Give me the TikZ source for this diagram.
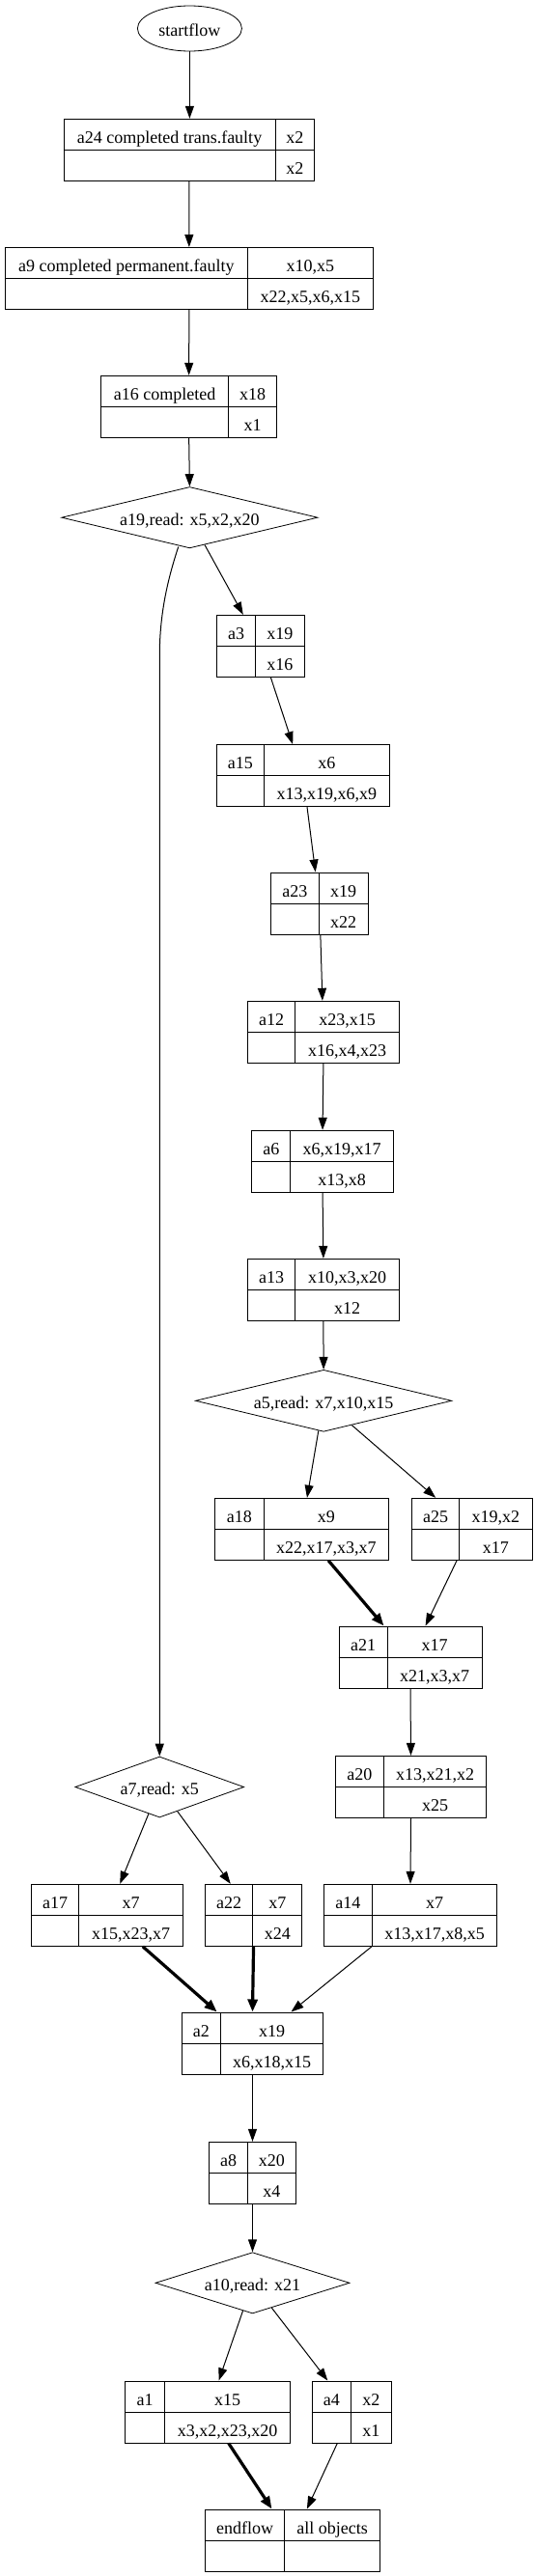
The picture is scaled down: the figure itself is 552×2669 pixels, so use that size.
\documentclass[tikz,border=0pt]{standalone}
\usepackage{fontspec}
\setmainfont{Liberation Serif}
\usetikzlibrary{arrows.meta,shapes.geometric}
\newcommand{\recnode}[8]{%
  \node[recbox,minimum width={(#4-#2)*1pt},minimum height=64pt] (#1) at ({(#2+#4)/2},{#5+32}) {};
  \draw[line width=1pt] (#1.west) -- (#1.east);
  \draw[line width=1pt] (#3,#5) -- (#3,#5+64);
  \node[txt] (#1-a) at ({(#2+#3)/2},{#5+16}) {#6};
  \node[txt] (#1-b) at ({(#3+#4)/2},{#5+16}) {#7};
  \node[txt] (#1-c) at ({(#3+#4)/2},{#5+48}) {#8};
}
\begin{document}
\begin{tikzpicture}[x=1pt,y=-1pt,
  recbox/.style={draw,line width=1pt,inner sep=0pt,rectangle},
  dia/.style={draw,line width=0.8pt,diamond,inner sep=0pt,text height=16pt,text depth=0pt,font=\fontsize{18}{20}\selectfont},
  txt/.style={inner sep=0pt,text height=18pt,text depth=0pt,font=\fontsize{18}{20}\selectfont},
  edge/.style={line width=1pt,-{Triangle[length=13pt,width=9pt]}},
  thickedge/.style={line width=3.2pt,-{Triangle[length=13pt,width=10pt]}}]
\useasboundingbox (0,0) rectangle (552,2669);
\fill[white] (0,0) rectangle (552,2669);

\node[draw,line width=0.8pt,ellipse,inner sep=0pt,minimum width=108pt,minimum height=47pt,text height=15.6pt,text depth=0pt,font=\fontsize{18}{20}\selectfont] (start) at (196.4,29.5) {startflow};

\recnode{a24}{66}{285}{325.5}{123.3}{a24 completed trans.faulty}{x2}{x2}
\recnode{a9}{5.3}{256.5}{386.4}{256.5}{a9 completed permanent.faulty}{x10,x5}{x22,x5,x6,x15}
\recnode{a16}{104.7}{236.4}{286.6}{389.3}{a16 completed}{x18}{x1}
\node[dia,aspect=4.2,minimum width=265.3pt,minimum height=63.4pt] (a19) at (196.4,536.2) {a19,read: x5,x2,x20};
\recnode{a3}{224.3}{264.7}{315}{637.3}{a3}{x19}{x16}
\recnode{a15}{224.3}{273.5}{403.4}{771.7}{a15}{x6}{x13,x19,x6,x9}
\recnode{a23}{280.6}{330.1}{381.1}{904}{a23}{x19}{x22}
\recnode{a12}{256.5}{305.7}{413.3}{1037.3}{a12}{x23,x15}{x16,x4,x23}
\recnode{a6}{260.8}{300.8}{407.3}{1171.3}{a6}{x6,x19,x17}{x13,x8}
\recnode{a13}{256.5}{305.7}{413.3}{1304.3}{a13}{x10,x3,x20}{x12}
\node[dia,aspect=4.15,minimum width=265.4pt,minimum height=64pt] (a5) at (335.1,1451.3) {a5,read: x7,x10,x15};
\recnode{a18}{222.6}{273.2}{402.3}{1552.3}{a18}{x9}{x22,x17,x3,x7}
\recnode{a25}{426.4}{475.9}{551}{1552.3}{a25}{x19,x2}{x17}
\recnode{a21}{351}{401.3}{499}{1685}{a21}{x17}{x21,x3,x7}
\recnode{a20}{347.1}{397.4}{503.9}{1819.3}{a20}{x13,x21,x2}{x25}
\node[dia,aspect=2.78,minimum width=174.9pt,minimum height=63pt] (a7) at (165.25,1851.5) {a7,read: x5};
\recnode{a17}{32.6}{81.7}{189.3}{1952.3}{a17}{x7}{x15,x23,x7}
\recnode{a22}{212.3}{261.9}{312.8}{1952.3}{a22}{x7}{x24}
\recnode{a14}{335.1}{385.4}{514.9}{1952.3}{a14}{x7}{x13,x17,x8,x5}
\recnode{a2}{188.3}{228.6}{334.7}{2085}{a2}{x19}{x6,x18,x15}
\recnode{a8}{216.6}{256.5}{306.4}{2219.3}{a8}{x20}{x4}
\node[dia,aspect=3.17,minimum width=201pt,minimum height=63.3pt] (a10) at (261.5,2365.3) {a10,read: x21};
\recnode{a1}{129.9}{170.2}{300.8}{2467}{a1}{x15}{x3,x2,x23,x20}
\recnode{a4}{323.1}{363.4}{405.5}{2467}{a4}{x2}{x1}
\recnode{endflow}{212.3}{294.8}{393.5}{2600}{endflow}{all objects}{}

\draw[edge] (start.south) -- (start.south |- a24.north);
\draw[edge] (a24.south) -- (a9.north);
\draw[edge] (a9.south) -- (a16.north);
\draw[edge] (a16.south) -- (a19.north);
\draw[edge] (a19) -- (a3);
\draw[edge] (a3) -- (a15);
\draw[edge] (a15) -- (a23);
\draw[edge] (a23) -- (a12);
\draw[edge] (a12.south) -- (a6.north);
\draw[edge] (a6.south) -- (a13.north);
\draw[edge] (a13.south) -- (a5.north);
\draw[edge] (a5) -- (a18);
\draw[edge] (a5) -- (a25);
\draw[thickedge] (a18) -- (a21);
\draw[edge] (a25) -- (a21);
\draw[edge] (a21.south) -- (a20.north);
\draw[edge] (a20.south) -- (a14.north);
\coordinate (c19) at ([xshift=-11.7pt,yshift=1.7pt]a19.south);
\coordinate (c7) at (a7.north |- 0,680);
\draw[edge] (c19) .. controls (172,605) and (165.25,640) .. (c7) -- (a7.north);
\draw[edge] (a7) -- (a17);
\draw[edge] (a7) -- (a22);
\draw[thickedge] (a17) -- (a2);
\draw[thickedge] (a22.south) -- (a2.north);
\draw[edge] (a14) -- (a2);
\draw[edge] (a2.south) -- (a8.north);
\draw[edge] (a8.south) -- (a10.north);
\draw[edge] (a10) -- (a1);
\draw[edge] (a10) -- (a4);
\draw[thickedge] (a1) -- (endflow);
\draw[edge] (a4) -- (endflow);
\end{tikzpicture}
\end{document}
